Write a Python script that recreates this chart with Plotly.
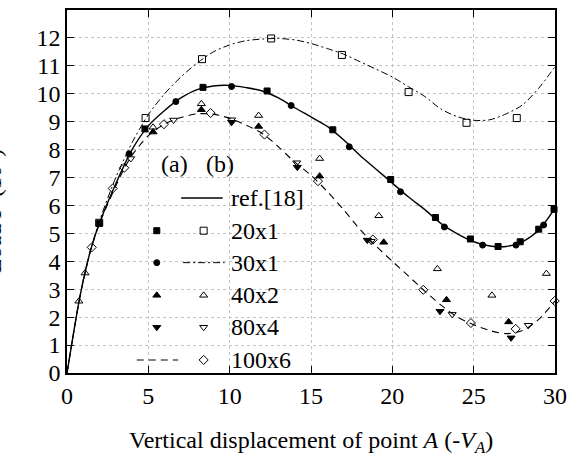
import plotly.graph_objects as go

# ---------------- data ----------------
# curves
ref18_x = [0, 0.75, 1.1, 1.5, 2, 3, 4, 5, 6, 7, 8, 9, 10, 11, 12, 13, 14, 15, 16, 17, 18, 19, 20, 21, 22, 23, 24, 25, 26, 27, 28, 29, 30]
ref18_y = [0, 2.6, 3.58, 4.5, 5.38, 6.78, 8.0, 8.85, 9.4, 9.85, 10.15, 10.28, 10.3, 10.22, 10.1, 9.85, 9.5, 9.17, 8.83, 8.35, 7.8, 7.3, 6.8, 6.3, 5.85, 5.35, 4.98, 4.7, 4.55, 4.53, 4.7, 5.12, 5.9]

b30_x = [0, 0.75, 1.1, 1.5, 2, 3, 4, 5, 6, 7, 8, 9, 10, 11, 12, 13, 14, 15, 16, 17, 18, 19, 20, 21, 22, 23, 24, 25, 26, 27, 28, 29, 30]
b30_y = [0, 2.6, 3.6, 4.5, 5.45, 7.0, 8.25, 9.25, 10.0, 10.6, 11.1, 11.5, 11.75, 11.9, 11.96, 11.98, 11.93, 11.8, 11.62, 11.42, 11.15, 10.88, 10.6, 10.25, 9.9, 9.45, 9.18, 9.05, 9.07, 9.28, 9.6, 10.2, 10.97]

a100_x = [0, 0.75, 1.1, 1.5, 2, 3, 3.5, 4, 5, 6, 7, 8, 9, 10, 11, 12, 13, 14, 15, 16, 17, 18, 19, 20, 21, 22, 23, 24, 25, 26, 27, 28, 29, 30]
a100_y = [0, 2.6, 3.55, 4.5, 5.35, 6.7, 7.3, 7.8, 8.5, 8.92, 9.15, 9.28, 9.27, 9.12, 8.88, 8.58, 8.1, 7.55, 7.08, 6.5, 5.85, 5.15, 4.55, 4.0, 3.47, 2.93, 2.43, 2.0, 1.73, 1.52, 1.41, 1.52, 1.92, 2.58]

# markers
a20_x = [1.98, 4.79, 8.36, 12.3, 16.34, 19.9, 22.65, 24.8, 26.5, 27.86, 29.0, 29.94]
a20_y = [5.36, 8.74, 10.23, 10.1, 8.71, 6.93, 5.57, 4.8, 4.53, 4.7, 5.15, 5.86]

b20_x = [1.98, 4.83, 8.3, 12.55, 16.9, 21.0, 24.56, 27.65]
b20_y = [5.38, 9.13, 11.24, 11.98, 11.39, 10.06, 8.96, 9.13]

a30_x = [3.82, 6.69, 10.12, 13.78, 17.35, 20.5, 23.2, 25.55, 27.6, 29.3]
a30_y = [7.85, 9.72, 10.26, 9.58, 8.1, 6.49, 5.23, 4.58, 4.58, 5.3]

a40_x = [5.29, 8.26, 11.78, 15.53, 19.47, 23.33, 27.15]
a40_y = [8.63, 9.43, 8.83, 7.05, 4.68, 2.62, 1.83]

b40_x = [0.73, 1.11, 5.29, 8.26, 11.78, 15.53, 19.17, 22.77, 26.12, 29.47]
b40_y = [2.57, 3.58, 8.8, 9.64, 9.22, 7.68, 5.63, 3.73, 2.78, 3.56]

a80_x = [10.12, 14.16, 18.46, 22.93, 27.3]
a80_y = [8.98, 7.37, 4.76, 2.21, 1.26]

b80_x = [3.92, 6.55, 10.12, 14.12, 18.7, 23.68, 28.36]
b80_y = [7.68, 9.06, 9.07, 7.53, 4.72, 2.1, 1.71]

b100_x = [1.52, 2.81, 3.52, 5.96, 8.83, 12.14, 15.43, 18.8, 21.9, 24.83, 27.58, 29.98]
b100_y = [4.5, 6.61, 7.35, 8.91, 9.31, 8.54, 6.87, 4.78, 2.98, 1.79, 1.58, 2.58]

legend_labels = ["ref.[18]", "20x1", "30x1", "40x2", "80x4", "100x6"]
x_ticks = [0, 5, 10, 15, 20, 25, 30]
y_ticks = list(range(0, 14))

FONT = "Liberation Serif"

fig = go.Figure()

def line(x, y, dash, width=1.3):
    fig.add_trace(go.Scatter(x=x, y=y, mode="lines", line=dict(color="black", width=width, dash=dash, shape="spline", smoothing=0.8),
                             showlegend=False, hoverinfo="skip"))

def mark(x, y, symbol, size, xa="x", ya="y"):
    fig.add_trace(go.Scatter(x=x, y=y, mode="markers", xaxis=xa, yaxis=ya, cliponaxis=False,
                             marker=dict(symbol=symbol, size=size, color="black",
                                         line=dict(color="black", width=1)),
                             showlegend=False, hoverinfo="skip"))

line(ref18_x, ref18_y, "solid", 1.4)
line(b30_x, b30_y, "7px,3px,2px,3px", 1.0)
line(a100_x, a100_y, "7px,5px", 1.1)

mark(a20_x, a20_y, "square", 6)
mark(b20_x, b20_y, "square-open", 7)
mark(a30_x, a30_y, "circle", 6)
mark(a40_x, a40_y, "triangle-up", 7)
mark(b40_x, b40_y, "triangle-up-open", 7)
mark(a80_x, a80_y, "triangle-down", 7)
mark(b80_x, b80_y, "triangle-down-open", 7)
mark(b100_x, b100_y, "diamond-open", 7)

# ---------------- legend (drawn manually) ----------------
row_y = [0.482, 0.392, 0.304, 0.214, 0.126, 0.036]
col_a, col_b, text_x = 0.184, 0.280, 0.331
mark([col_a], [row_y[1]], "square", 6, "x2", "y2")
mark([col_b], [row_y[1]], "square-open", 7, "x2", "y2")
mark([col_a], [row_y[2]], "circle", 6, "x2", "y2")
mark([col_a], [row_y[3]], "triangle-up", 7, "x2", "y2")
mark([col_b], [row_y[3]], "triangle-up-open", 7, "x2", "y2")
mark([col_a], [row_y[4]], "triangle-down", 7, "x2", "y2")
mark([col_b], [row_y[4]], "triangle-down-open", 7, "x2", "y2")
mark([col_b], [row_y[5]], "diamond-open", 7, "x2", "y2")

shapes = [
    dict(type="line", xref="paper", yref="paper", x0=0.234, x1=0.319, y0=row_y[0], y1=row_y[0], line=dict(color="black", width=1.4)),
    dict(type="line", xref="paper", yref="paper", x0=0.238, x1=0.323, y0=row_y[2], y1=row_y[2], line=dict(color="black", width=1.0, dash="7px,3px,2px,3px")),
    dict(type="line", xref="paper", yref="paper", x0=0.143, x1=0.228, y0=row_y[5], y1=row_y[5], line=dict(color="black", width=1.1, dash="7px,5px")),
]

annotations = [
    dict(text="(a)", x=0.188, y=0.575, xref="paper", yref="paper", showarrow=False, font=dict(family=FONT, size=24, color="black")),
    dict(text="(b)", x=0.281, y=0.575, xref="paper", yref="paper", showarrow=False, font=dict(family=FONT, size=24, color="black")),
]
for lab, yy in zip(legend_labels, row_y):
    annotations.append(dict(text=lab, x=text_x, y=yy, xref="paper", yref="paper", xanchor="left", yanchor="middle",
                            showarrow=False, font=dict(family=FONT, size=24, color="black")))

annotations.append(dict(text="Vertical displacement of point <i>A</i> (-<i>V</i><sub><i>A</i></sub>)",
                        x=0.5, y=-0.19, xref="paper", yref="paper", showarrow=False, yanchor="middle",
                        font=dict(family=FONT, size=24, color="black")))
annotations.append(dict(text="Load <i>P</i> (10<sup>3</sup>)", textangle=-90,
                        x=-0.157, y=0.447, xref="paper", yref="paper", showarrow=False,
                        xanchor="center", yanchor="middle",
                        font=dict(family=FONT, size=24, color="black")))

axis_common = dict(showline=True, linecolor="black", linewidth=1.6, mirror="ticks", ticks="inside", ticklen=7,
                   tickwidth=1.2, tickcolor="black", showgrid=True, gridcolor="#c4c4c4", griddash="dot", gridwidth=1,
                   zeroline=False, tickfont=dict(family=FONT, size=24, color="black"))

fig.update_layout(
    width=575, height=463,
    margin=dict(l=67, r=13, t=8, b=90),
    paper_bgcolor="white", plot_bgcolor="white",
    font=dict(family=FONT, size=24, color="black"),
    xaxis=dict(range=[0, 30], tickvals=x_ticks, ticklabelstandoff=0, **axis_common),
    yaxis=dict(range=[0, 13], tickvals=y_ticks, ticklabelstandoff=0, **axis_common),
    xaxis2=dict(range=[0, 1], overlaying="x", visible=False),
    yaxis2=dict(range=[0, 1], overlaying="y", visible=False),
    shapes=shapes, annotations=annotations,
)

fig.write_html("out.html")
